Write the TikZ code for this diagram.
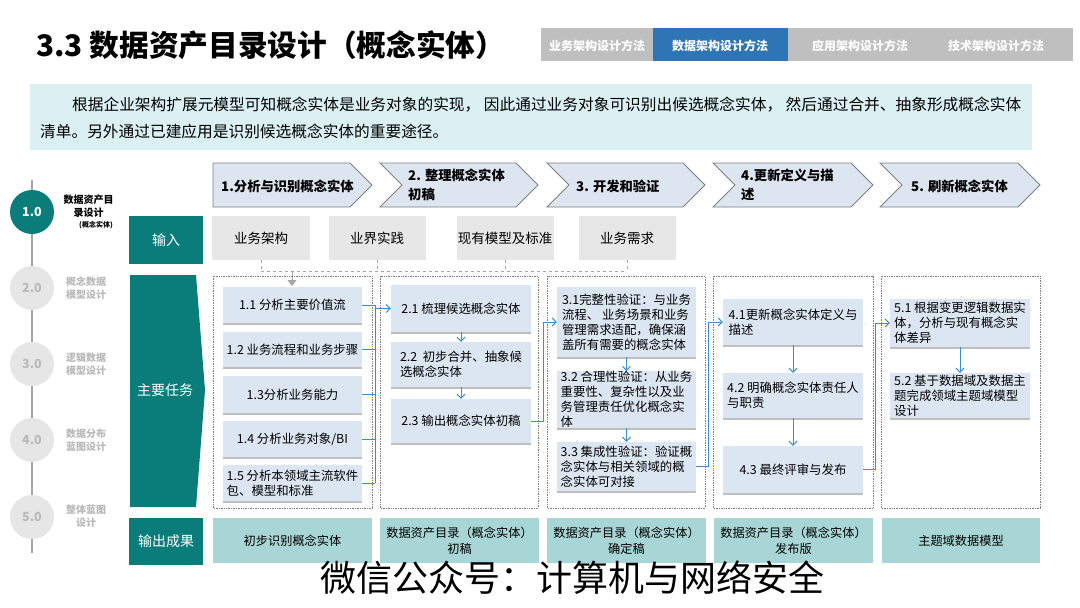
\documentclass[tikz,border=0pt]{standalone}
\usepackage{fontspec}
\setmainfont{Noto Sans CJK SC}
\usetikzlibrary{arrows.meta}
\newcommand\myfs[2]{\fontsize{#1}{#2}\selectfont}
\definecolor{teal}{RGB}{10,125,122}
\definecolor{outfill}{RGB}{168,214,214}
\definecolor{taskfill}{RGB}{220,230,242}
\definecolor{chevfill}{RGB}{221,229,240}
\definecolor{inputfill}{RGB}{231,231,231}
\definecolor{introfill}{RGB}{218,240,243}
\definecolor{tabgray}{RGB}{191,191,191}
\definecolor{tabblue}{RGB}{46,117,182}
\definecolor{arrowblue}{RGB}{58,143,208}
\definecolor{circgray}{RGB}{230,230,230}
\definecolor{textgray}{RGB}{185,185,185}
\definecolor{linegray}{RGB}{166,166,166}
\definecolor{framegray}{RGB}{128,128,128}
\definecolor{shadowgray}{RGB}{190,190,190}
\begin{document}
\begin{tikzpicture}[x=1pt,y=-1pt,
  chev/.style={draw=framegray,fill=chevfill,line width=0.8pt},
  chevtxt/.style={inner sep=0,anchor=west,align=left,font=\myfs{13.3}{19}\bfseries},
  inbox/.style={fill=inputfill,minimum width=97,minimum height=44,inner sep=0,font=\myfs{13.5}{16}},
  rowlbl/.style={fill=teal,text=white,minimum width=74,minimum height=48,inner sep=0,font=\myfs{14}{16}},
  frame/.style={draw=framegray,densely dotted,line width=0.7pt},
  task/.style={fill=taskfill,inner sep=0,align=left,font=\myfs{12.4}{15}},
  outbox/.style={fill=outfill,minimum height=45,inner sep=0,align=center,font=\myfs{12.2}{16}},
  shadowline/.style={shadowgray,line width=2.2pt},
  bl/.style={arrowblue,line width=1pt},
  bla/.style={arrowblue,line width=1pt,-{Straight Barb[length=4pt,width=8pt]}},
  dashg/.style={linegray,dashed,line width=0.8pt},
  tab/.style={text=white,inner sep=0,font=\myfs{12}{14}\bfseries},
  tlc/.style={circle,minimum size=44,inner sep=0,font=\myfs{12.5}{14}\bfseries},
  tll/.style={inner sep=0,align=left,anchor=west,text=textgray,font=\myfs{10}{13}\bfseries}
]
\useasboundingbox (0,0) rectangle (1080,608);
\fill[white] (0,0) rectangle (1080,608);

% title
\node[inner sep=0,anchor=west,font=\myfs{29.7}{34}\bfseries] (title) at (36,45) {3.3 数据资产目录设计（概念实体）};

% tabs
\fill[tabgray] (541,28) rectangle (1073,61);
\fill[tabblue] (653,28) rectangle (788,61);
\node[tab] (tab1) at (597,46) {业务架构设计方法};
\node[tab] (tab2) at (720,46) {数据架构设计方法};
\node[tab] (tab3) at (860,46) {应用架构设计方法};
\node[tab] (tab4) at (996,46) {技术架构设计方法};

% intro
\fill[introfill] (30,84) rectangle (1032,150);
\node[inner sep=0,anchor=west,font=\myfs{15.7}{18}] (intro1) at (72,105) {根据企业架构扩展元模型可知概念实体是业务对象的实现， 因此通过业务对象可识别出候选概念实体， 然后通过合并、抽象形成概念实体};
\node[inner sep=0,anchor=west,font=\myfs{15.7}{18}] (intro2) at (40,131) {清单。另外通过已建应用是识别候选概念实体的重要途径。};

% timeline
\draw[linegray,line width=2.4pt] (32,180) -- (32,553);
\node[tlc,fill=teal,text=white] (c1) at (32,212) {1.0};
\node[tlc,fill=circgray,text=textgray] (c2) at (32,288) {2.0};
\node[tlc,fill=circgray,text=textgray] (c3) at (32,364) {3.0};
\node[tlc,fill=circgray,text=textgray] (c4) at (32,440) {4.0};
\node[tlc,fill=circgray,text=textgray] (c5) at (32,517) {5.0};
\node[inner sep=0,align=center,font=\myfs{10}{13}\bfseries] (l1) at (88.5,206.5) {数据资产目\\录设计};
\node[inner sep=0,font=\myfs{7}{8}\bfseries] (l1b) at (96,225) {(概念实体)};
\node[tll] (l2) at (66,288.5) {概念数据\\模型设计};
\node[tll] (l3) at (66,364.5) {逻辑数据\\模型设计};
\node[tll] (l4) at (66,440) {数据分布\\蓝图设计};
\node[tll,align=center] (l5) at (66,516) {整体蓝图\\设计};

% chevrons
\draw[chev] (213,163) -- (350,163) -- (372,185) -- (350,207) -- (213,207) -- cycle;
\foreach \a/\b in {380/538,547/705,713/873,880/1040}{
  \draw[chev] (\a,163) -- ({\b-22},163) -- (\b,185) -- ({\b-22},207) -- (\a,207) -- ({\a+22},185) -- cycle;
}
\node[chevtxt] (h1) at (221,186) {1.分析与识别概念实体};
\node[chevtxt] (h2) at (408,185) {2. 整理概念实体\\初稿};
\node[chevtxt] (h3) at (576,186) {3. 开发和验证};
\node[chevtxt] (h4) at (741,185) {4.更新定义与描\\述};
\node[chevtxt] (h5) at (911,186) {5. 刷新概念实体};

% row labels
\node[rowlbl] (rin) at (166,240) {输入};
\fill[teal] (130,275) -- (196,275) -- (205,390) -- (196,507) -- (130,507) -- cycle;
\node[inner sep=0,text=white,font=\myfs{14}{16}] (rtask) at (165,390) {主要任务};
\node[rowlbl,minimum height=47] (rout) at (166,541.5) {输出成果};

% inputs
\node[inbox,minimum width=98] (i1) at (261,238) {业务架构};
\node[inbox] (i2) at (377,238) {业界实践};
\node[inbox] (i3) at (505,238) {现有模型及标准};
\node[inbox] (i4) at (627,238) {业务需求};
\coordinate (hl) at (0,271);
\foreach \n in {i1,i2,i3,i4}{ \draw[dashg] (\n.south) -- (\n.south |- hl); }
\draw[dashg] (i1.south |- hl) -- (i4.south |- hl);
\coordinate (arrx) at (292,0);
\draw[linegray,line width=0.8pt,-{Triangle[length=6pt,width=9pt]}] (arrx |- hl) -- (292,286);

% frames
\foreach \a/\b in {213/372,380/538,547/705,713/873,881/1040}{
  \draw[frame] (\a,276) rectangle (\b,508);
}

% frame 1 tasks
\node[task,minimum width=139,minimum height=36] (t11) at (292.5,305) {1.1 分析主要价值流};
\node[task,minimum width=139,minimum height=35] (t12) at (292.5,349.5) {1.2 业务流程和业务步骤};
\node[task,minimum width=139,minimum height=37] (t13) at (292.5,394.5) {1.3分析业务能力};
\node[task,minimum width=139,minimum height=36] (t14) at (292.5,439) {1.4 分析业务对象/BI};
\node[task,minimum width=139,minimum height=36] (t15) at (292.5,483) {1.5 分析本领域主流软件\\包、模型和标准};

% frame 2
\node[task,minimum width=140,minimum height=47] (t21) at (461,308.5) {2.1 梳理候选概念实体};
\node[task,minimum width=140,minimum height=45] (t22) at (461,364.5) {2.2\ \ 初步合并、抽象候\\选概念实体};
\node[task,minimum width=140,minimum height=44] (t23) at (461,421) {2.3 输出概念实体初稿};

% frame 3
\node[task,minimum width=139,minimum height=70] (t31) at (626.5,322) {3.1完整性验证：与业务\\流程、 业务场景和业务\\管理需求适配，确保涵\\盖所有需要的概念实体};
\node[task,minimum width=139,minimum height=55] (t32) at (626.5,399.5) {3.2 合理性验证：从业务\\重要性、复杂性以及业\\务管理责任优化概念实\\体};
\node[task,minimum width=139,minimum height=49] (t33) at (626.5,466.5) {3.3 集成性验证：验证概\\念实体与相关领域的概\\念实体可对接};

% frame 4
\node[task,minimum width=140,minimum height=46] (t41) at (793,322) {4.1更新概念实体定义与\\描述};
\node[task,minimum width=140,minimum height=45] (t42) at (793,395.5) {4.2 明确概念实体责任人\\与职责};
\node[task,minimum width=140,minimum height=47] (t43) at (793,469.5) {4.3 最终评审与发布};

% frame 5
\node[task,minimum width=140,minimum height=48] (t51) at (960,323) {5.1 根据变更逻辑数据实\\体，分析与现有概念实\\体差异};
\node[task,minimum width=140,minimum height=45] (t52) at (960,395.5) {5.2 基于数据域及数据主\\题完成领域主题域模型\\设计};

% shadows
\foreach \n in {t11,t12,t13,t14,t15,t21,t22,t23,t31,t32,t33,t41,t42,t43,t51,t52}{
  \draw[shadowline] ([yshift=-1pt]\n.south west) -- ([yshift=-1pt]\n.south east);
}

% blue connectors
\coordinate (bar) at (375,0);
\foreach \n in {t11,t12,t13,t14,t15}{ \draw[bl] (\n.east) -- (\n.east -| bar); }
\draw[bl] (t11.east -| bar) -- (t15.east -| bar);
\draw[bla] (t21.west -| bar) -- (t21.west);
\draw[bla] (t21.south) -- (t22.north);
\draw[bla] (t22.south) -- (t23.north);
\draw[bla] (t23.east) -- ++(12,0) |- (t31.west);
\draw[bla] (t31.south) -- (t32.north);
\draw[bla] (t32.south) -- (t33.north);
\draw[bla] (t33.east) -- ++(12,0) |- (t41.west);
\draw[bla] (t41.south) -- (t42.north);
\draw[bla] (t42.south) -- (t43.north);
\draw[bla] (t43.east) -- ++(12,0) |- (t51.west);
\draw[bla] (t51.south) -- (t52.north);

% outputs
\node[outbox,minimum width=159] (o1) at (292.5,540.5) {初步识别概念实体};
\node[outbox,minimum width=159] (o2) at (459.5,540.5) {数据资产目录（概念实体）\\初稿};
\node[outbox,minimum width=159] (o3) at (626.5,540.5) {数据资产目录（概念实体）\\确定稿};
\node[outbox,minimum width=159] (o4) at (793.5,540.5) {数据资产目录（概念实体）\\发布版};
\node[outbox,minimum width=158] (o5) at (961,540.5) {主题域数据模型};

% watermark
\node[inner sep=0,font=\myfs{36}{40}] (wm) at (572,578) {微信公众号：计算机与网络安全};
\end{tikzpicture}
\end{document}
